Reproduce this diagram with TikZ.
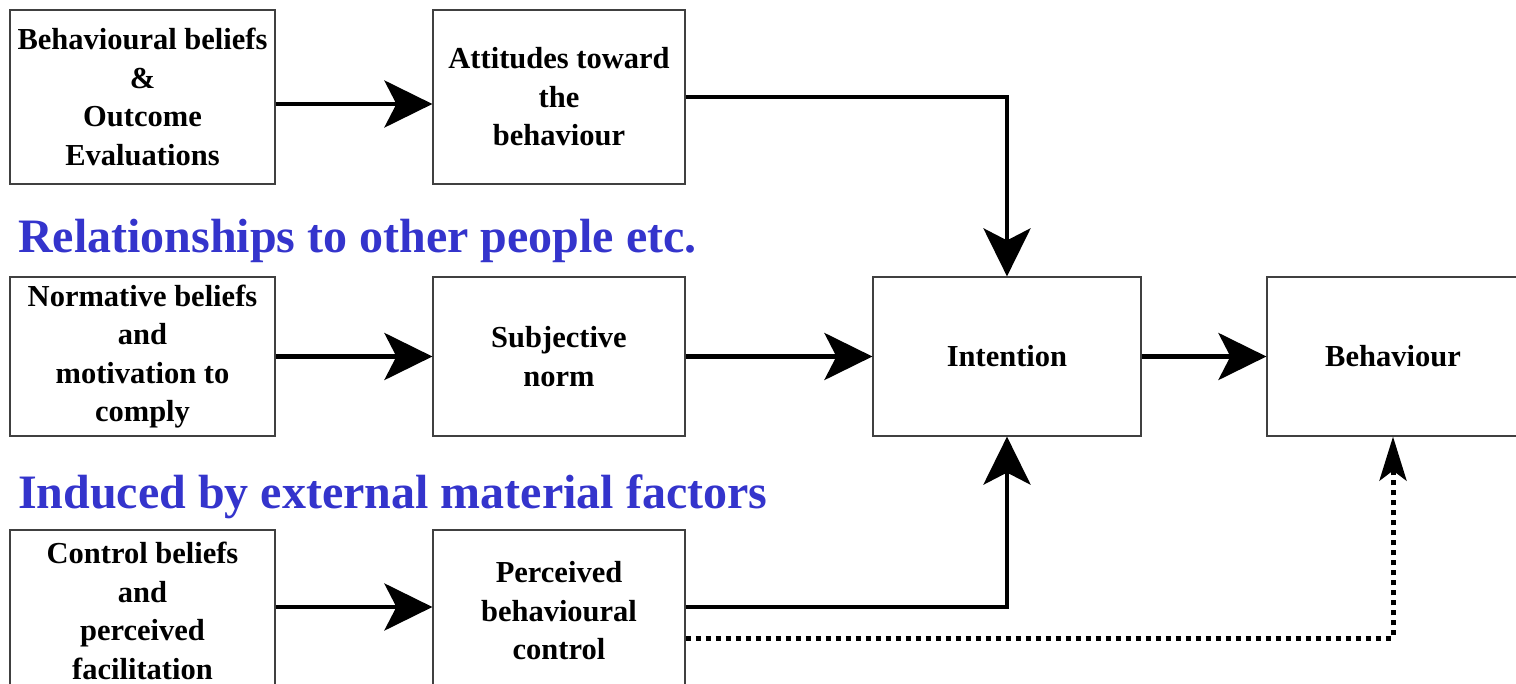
\documentclass[tikz,border=0pt]{standalone}
\usepackage{fontspec}
\setmainfont{Liberation Serif}
\usetikzlibrary{arrows.meta}
\definecolor{headblue}{RGB}{52,52,204}
\begin{document}
\begin{tikzpicture}[x=1pt,y=-1pt,
  box/.style={draw=black!75, line width=1.2pt, fill=white, align=center,
    inner sep=0pt, font=\bfseries\fontsize{30.5}{38.5}\selectfont},
  arr/.style={line width=4.5pt, -{Stealth[length=48pt,width=47pt,inset=12pt]}},
  dotarr/.style={line width=5pt, dash pattern=on 5pt off 5pt,
    -{Stealth[length=44pt,width=27pt,inset=10pt]}},
  heading/.style={anchor=base west, inner sep=0pt, text=headblue,
    font=\bfseries\fontsize{48}{52}\selectfont}]
\useasboundingbox (0,0) rectangle (1516,684);
\clip (0,0) rectangle (1516,684);

% boxes, centres and sizes in picture units
\node[box, minimum width=265pt, minimum height=174pt] (A1) at (142.5,97)
  {Behavioural beliefs\\\&\\Outcome\\Evaluations};
\node[box, minimum width=252pt, minimum height=174pt] (A2) at (559,97)
  {Attitudes toward\\the\\behaviour};
\node[box, minimum width=265pt, minimum height=159pt] (B1) at (142.5,356.5)
  {Normative beliefs\\and\\motivation to\\comply};
\node[box, minimum width=252pt, minimum height=159pt] (B2) at (559,356.5)
  {Subjective\\norm};
\node[box, minimum width=268pt, minimum height=159pt] (Int) at (1007,356.5)
  {Intention};
\node[box, minimum width=252pt, minimum height=159pt] (Beh) at (1393,356.5)
  {Behaviour};
\node[box, minimum width=265pt, minimum height=162pt] (C1) at (142.5,611)
  {Control beliefs\\and\\perceived\\facilitation};
\node[box, minimum width=252pt, minimum height=162pt] (C2) at (559,611)
  {Perceived\\behavioural\\control};

% group headings
\node[heading] (H1) at (18,253) {Relationships to other people etc.};
\node[heading] (H2) at (18,508) {Induced by external material factors};

% connector heights
\coordinate (yA) at (0,104);
\coordinate (yC) at (0,607);
\coordinate (yD) at (0,638);

\draw[arr] (A1.east |- yA) -- (A2.west |- yA);
\draw[arr] (B1.east |- B2.west) -- (B2.west);
\draw[arr] (C1.east |- yC) -- (C2.west |- yC);
\draw[arr] (B2.east) -- (Int.west);
\draw[arr] (Int.east) -- (Beh.west);
\draw[arr] (A2.east) -| (Int.north);
\draw[arr] (C2.east |- yC) -| (Int.south);
\draw[dotarr] (C2.east |- yD) -| (Beh.south);
\end{tikzpicture}
\end{document}
